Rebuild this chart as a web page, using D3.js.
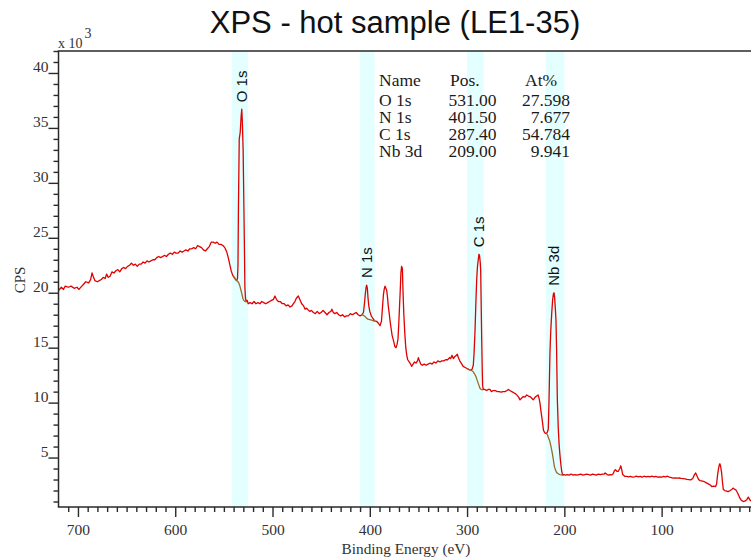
<!DOCTYPE html>
<html>
<head>
<meta charset="utf-8">
<script src="https://cdn.jsdelivr.net/npm/d3@7/dist/d3.min.js"></script>
<style>
  html, body { margin: 0; padding: 0; background: #fff; }
  svg { display: block; }
</style>
</head>
<body>
<svg id="chart" width="751" height="560"></svg>
<script>
// XPS survey spectrum, counts in thousands of CPS vs binding energy (eV)
const spectrum = [
  [720, 20.2], [717, 20.5], [715, 20.3], [713, 20.6], [710, 20.5], [707, 20.6], [704, 20.4], [701, 20.5],
  [699, 20.3], [696, 20.6], [694, 20.8], [692, 21.0], [689, 20.9], [687, 21.2], [685.5, 21.8], [684, 21.4],
  [682.5, 21.1], [680, 21.0], [678, 21.1], [676, 21.2], [674, 21.4], [672, 21.3], [670.5, 21.7], [669, 21.4],
  [667, 21.5], [665, 21.9], [663, 21.8], [661, 22.0], [659, 22.1], [657, 21.9], [655, 22.2], [653, 22.3],
  [651, 22.2], [649, 22.4], [647, 22.5], [645, 22.7], [643, 22.5], [641, 22.6], [639, 22.4], [637, 22.6],
  [635, 22.6], [633, 22.8], [631, 22.7], [629, 22.9], [627, 22.8], [625, 22.9], [623, 23.0], [621, 23.0],
  [619, 23.2], [617, 23.3], [615, 23.2], [613, 23.3], [611, 23.4], [609, 23.3], [607, 23.5], [605, 23.6],
  [603, 23.5], [601, 23.7], [599, 23.6], [597, 23.6], [595, 23.8], [593, 23.7], [591, 23.8], [589, 23.9],
  [587, 23.8], [585, 24.0], [583, 24.0], [581, 24.1], [579, 24.0], [577, 24.3], [575, 24.2], [573, 24.1],
  [571, 23.9], [569, 23.8], [567, 24.0], [565, 24.2], [563, 24.6], [561, 24.6], [559, 24.5], [557, 24.6],
  [555, 24.4], [553, 24.4], [551, 24.3], [549, 24.1], [547, 23.7], [545.5, 23.2], [544, 22.6], [542.5, 22.0],
  [541, 21.6], [539.5, 21.4], [538, 21.2], [537, 21.1], [536, 21.3],
  [535.5, 22.5], [535, 28.0], [534.2, 34.0], [533.2, 34.6], [532.3, 36.0], [531.6, 36.7], [531, 35.5],
  [530.2, 33.0], [529.6, 29.0], [529, 25.0], [528.4, 20.5], [527.8, 19.5], [527, 19.2], [526, 19.3],
  [525, 19.0], [523, 19.1], [521, 19.0], [519, 19.2], [517, 19.0], [515, 19.1], [513, 19.0], [511, 19.2],
  [509, 19.1], [507, 19.0], [505, 19.1], [503, 19.2], [501, 19.3], [499, 19.4], [497.5, 19.7], [496, 19.4],
  [494, 19.2], [492, 19.2], [490, 19.0], [488, 19.0], [486, 18.8], [484, 18.9], [482, 18.7], [480, 18.8],
  [478.5, 19.0], [477, 19.2], [475.5, 19.5], [473.5, 19.7], [472, 19.4], [470, 19.0], [468, 18.8],
  [466.5, 18.5], [465, 18.6], [463, 18.4], [461.5, 18.3], [460, 18.4], [458, 18.2], [456, 18.1], [454, 18.3],
  [452, 18.1], [450, 18.2], [448, 18.4], [446, 18.2], [444, 18.0], [442, 18.2], [440, 18.3], [439, 18.5],
  [437.5, 18.2], [436, 18.1], [434, 18.2], [432, 18.0], [430, 17.9], [428, 18.0], [426, 17.8], [424, 17.9],
  [422, 17.9], [420, 18.1], [418, 18.0], [416, 18.1], [414, 18.2], [412, 18.0], [410, 17.9], [408, 18.0],
  [406.5, 18.2],
  [405.5, 19.0], [404.7, 19.8], [403.8, 20.5], [403.2, 20.7], [402.5, 20.4], [401.8, 19.5], [401, 18.8],
  [400, 18.3], [398.5, 17.9], [397, 17.7], [395, 17.45], [393, 17.4], [391, 17.2], [389.5, 17.0],
  [388, 17.4], [387, 18.6], [386, 19.8], [385.2, 20.3], [384.4, 20.6], [383.5, 20.4], [382.6, 20.2],
  [381.8, 19.6], [381, 18.8], [380, 18.1], [379, 17.3], [378, 16.7], [377, 16.1], [375.5, 15.6],
  [374.2, 15.1], [373, 15.0], [372, 15.3], [371, 15.8], [370.3, 17.0], [369.5, 18.6], [368.8, 20.0],
  [368, 21.8], [367.3, 22.4], [366.5, 22.2], [365.8, 20.0], [365, 18.0], [364, 16.3], [363, 15.0],
  [362, 14.3], [361, 13.9], [359.5, 13.7], [358, 13.5], [357, 13.3], [355.5, 13.5], [354, 13.7],
  [352.5, 13.6], [351, 13.8], [350, 14.1], [349, 13.8], [347.5, 13.5], [346, 13.4], [344, 13.5],
  [342, 13.4], [340, 13.5], [338, 13.6], [336, 13.5], [334, 13.7], [332, 13.6], [330, 13.8], [328, 13.7],
  [326, 13.8], [324, 13.8], [322, 13.9], [320, 13.9], [318, 14.1], [317, 14.0], [315.5, 14.3], [314, 14.0],
  [312.5, 14.2], [311, 14.3], [310, 14.4], [309, 14.1], [307.5, 13.8], [306, 13.6], [304, 13.3],
  [302, 13.2], [300, 13.1], [298, 13.0], [296.5, 12.95], [295, 13.0], [293.6, 13.4],
  [292.8, 14.5], [291.8, 16.6], [290.8, 19.5], [290.1, 21.2], [289.3, 22.4], [288.5, 23.0], [287.8, 23.5],
  [287.2, 23.4], [286.5, 22.8], [286, 22.0], [285.5, 19.0], [285, 16.0], [284.4, 13.0], [284, 11.5],
  [283.2, 11.2], [282, 11.2], [280, 11.1], [278, 11.2], [276.5, 11.2], [275, 11.0], [273, 11.1],
  [271, 11.1], [269, 11.0], [267, 11.0], [265, 10.95], [263, 11.0], [261, 11.0], [259, 11.1],
  [257.6, 11.2], [256, 11.1], [254, 11.0], [252, 10.9], [250, 10.8], [249, 10.7], [247, 10.5],
  [245.6, 10.25], [244, 10.4], [242.2, 10.55], [240.5, 10.5], [238.7, 10.7], [237, 10.6], [235.3, 10.55],
  [233.5, 10.4], [232, 10.25], [230, 10.5], [228.5, 10.6], [227, 10.7], [226, 10.4], [225, 9.9],
  [224, 9.2], [223.2, 8.7], [222.3, 8.1], [221.5, 7.5], [220.5, 7.3], [219.5, 7.2], [218.5, 7.2],
  [217.5, 7.3],
  [216.5, 7.6], [215.8, 10.0], [214.8, 14.5], [214, 16.5], [213, 18.1], [212, 19.4], [211.2, 19.9],
  [210.6, 20.0], [210, 19.6], [209.3, 18.6], [208.6, 17.5], [208, 15.0], [207.2, 10.3], [206.3, 7.8],
  [205.4, 6.2], [204.5, 5.2], [203.5, 4.3], [202.6, 3.7], [201.7, 3.4], [200.5, 3.45], [199, 3.4],
  [197, 3.45], [195, 3.4], [193, 3.5], [191, 3.4], [189, 3.45], [187, 3.4], [185, 3.45], [183, 3.5],
  [181, 3.4], [179, 3.45], [177, 3.5], [175, 3.45], [173, 3.4], [171, 3.5], [169, 3.45], [167, 3.4],
  [165, 3.5], [163, 3.45], [161, 3.5], [159, 3.5], [158, 3.6], [156, 3.45], [154.5, 3.4], [153, 3.45],
  [151.3, 3.43], [150, 3.5], [148.5, 3.8], [147.5, 3.9], [146, 3.75], [144.5, 3.75], [143, 4.0],
  [142, 4.25], [141, 3.9], [140, 3.45], [138, 3.3], [136, 3.28], [134, 3.25], [132, 3.28], [130, 3.22],
  [128, 3.25], [126, 3.3], [124, 3.25], [122, 3.28], [120, 3.22], [118, 3.3], [116, 3.25], [114, 3.28],
  [112, 3.25], [110, 3.3], [108, 3.25], [106, 3.28], [104, 3.22], [102, 3.25], [100, 3.22], [98, 3.28],
  [96, 3.25], [94, 3.3], [92, 3.22], [90, 3.18], [88, 3.13], [86, 3.15], [84, 3.12], [82, 3.14],
  [80, 3.1], [78, 3.08], [76, 3.05], [74, 3.02], [72, 3.0], [70, 2.97], [68, 3.1], [66.5, 3.4],
  [65, 3.6], [63.5, 3.3], [62, 3.0], [60.5, 2.9], [58, 2.85], [56, 2.8], [54, 2.7], [52, 2.6],
  [50, 2.5], [48.5, 2.36], [46.5, 2.4], [44.5, 2.36], [43.5, 2.6], [42.5, 3.4], [41.5, 4.0],
  [40.5, 4.4], [40, 4.43], [39.2, 4.1], [38.3, 3.6], [37.5, 2.8], [36.6, 2.1], [35, 2.0], [33, 1.95],
  [31.5, 1.9], [29.5, 2.0], [28, 2.1], [26.3, 2.22], [25, 2.1], [23.6, 2.05], [22, 1.8], [20.5, 1.5],
  [19.5, 1.3], [18, 1.1], [16, 1.0], [14, 1.05], [12.6, 1.15], [10.9, 1.4], [8.9, 1.1], [7, 1.0], [5, 0.9]
];

// Fitted regions: name, energy window, and Shirley backgrounds
const regionNames = ["O 1s", "N 1s", "C 1s", "Nb 3d"];
const regionStart = [542, 410, 300, 219];
const regionEnd = [525, 395, 283, 200];
const bgO1s = [[540, 21.5], [538.5, 21.3], [537, 21.15], [535.5, 21.0], [534.5, 20.85], [533.5, 20.6],
  [532.5, 20.25], [531.5, 19.9], [530.5, 19.5], [529.5, 19.3], [528, 19.2], [526.5, 19.2]];
const bgN1s = [[408.5, 18.0], [406.5, 17.95], [405, 17.85], [403.5, 17.7], [402, 17.6], [400, 17.55],
  [398, 17.5], [396.5, 17.45], [395, 17.45]];
const bgC1s = [[300, 13.1], [297, 12.97], [295, 12.9], [293.6, 12.8], [292.2, 12.6], [290.8, 12.35],
  [289.5, 12.0], [288.5, 11.75], [287.5, 11.5], [286.7, 11.3], [285.5, 11.2], [283.3, 11.15]];
const bgNb3d = [[218.5, 7.2], [217.5, 7.1], [216.5, 6.85], [214.8, 6.45], [213.5, 5.9], [212.4, 5.4],
  [211.3, 4.8], [210.3, 4.2], [209, 3.85], [207.9, 3.64], [206, 3.5], [204.5, 3.45], [201.7, 3.4]];

// Quantification table
const tableHeader = ["Name", "Pos.", "At%"];
const tablePos = ["531.00", "401.50", "287.40", "209.00"];
const tableAt = ["27.598", "7.677", "54.784", "9.941"];

// Axis ticks
const xMajorTicks = [700, 600, 500, 400, 300, 200, 100];
const yMajorTicks = [5, 10, 15, 20, 25, 30, 35, 40];

const svg = d3.select("#chart");
const plotLeft = 58.5, plotTop = 51, plotBottom = 507, plotRight = 758.9;

const x = d3.scaleLinear().domain([720, 0]).range([plotLeft, plotRight]);
const y = d3.scaleLinear().domain([0.5, 42]).range([plotBottom, plotTop]);

svg.append("defs").append("clipPath").attr("id", "plotClip")
  .append("rect").attr("x", plotLeft).attr("y", plotTop)
  .attr("width", plotRight - plotLeft).attr("height", plotBottom - plotTop);

const plot = svg.append("g").attr("clip-path", "url(#plotClip)");

// Region bands
plot.selectAll("rect.band").data(regionNames).join("rect")
  .attr("class", "band")
  .attr("x", (d, i) => x(regionStart[i]))
  .attr("width", (d, i) => x(regionEnd[i]) - x(regionStart[i]))
  .attr("y", plotTop)
  .attr("height", plotBottom - plotTop)
  .attr("fill", "#e4ffff");

const line = d3.line().x(d => x(d[0])).y(d => y(d[1]));

plot.append("path").datum(spectrum)
  .attr("d", line)
  .attr("fill", "none")
  .attr("stroke", "#e00000")
  .attr("stroke-width", 1.3)
  .attr("stroke-linejoin", "round");

plot.selectAll("path.bg").data([bgO1s, bgN1s, bgC1s, bgNb3d]).join("path")
  .attr("class", "bg")
  .attr("d", line)
  .attr("fill", "none")
  .attr("stroke", "#9a6a28")
  .attr("stroke-width", 1.3);

// Region labels above each peak maximum
regionNames.forEach((name, i) => {
  const inRegion = spectrum.filter(p => p[0] <= regionStart[i] && p[0] >= regionEnd[i]);
  const peak = inRegion.reduce((a, b) => (b[1] > a[1] ? b : a));
  const px = x(peak[0]), py = y(peak[1]) - 7;
  svg.append("text")
    .attr("transform", `translate(${px},${py}) rotate(-90)`)
    .attr("dy", "0.36em")
    .attr("font-family", "Liberation Sans, Arial, sans-serif")
    .attr("font-size", 15)
    .attr("fill", "#111")
    .text(name);
});

// Axes
const axisColor = "#2a2a2a";
const xMinor = d3.range(710, 0, -10).filter(v => !xMajorTicks.includes(v));
const yMinor = d3.range(1, 42.5, 1).filter(v => !yMajorTicks.includes(v));

const xAxisMinor = svg.append("g").attr("transform", `translate(0,${plotBottom})`)
  .call(d3.axisBottom(x).tickValues(xMinor).tickSize(5).tickFormat(""));
const xAxisMajor = svg.append("g").attr("transform", `translate(0,${plotBottom})`)
  .call(d3.axisBottom(x).tickValues(xMajorTicks).tickSize(10).tickFormat(d3.format("d")));
xAxisMajor.selectAll("text").attr("y", 28).attr("dy", 0);

const yAxisMinor = svg.append("g").attr("transform", `translate(${plotLeft},0)`)
  .call(d3.axisLeft(y).tickValues(yMinor).tickSize(5).tickFormat(""));
const yAxisMajor = svg.append("g").attr("transform", `translate(${plotLeft},0)`)
  .call(d3.axisLeft(y).tickValues(yMajorTicks).tickSize(10).tickFormat(d3.format("d")));
yAxisMajor.selectAll("text").attr("x", -10).attr("y", -1).attr("dy", 0).attr("text-anchor", "end");

[xAxisMinor, xAxisMajor, yAxisMinor, yAxisMajor].forEach(g => {
  g.select(".domain").remove();
  g.selectAll("line").attr("stroke", axisColor).attr("stroke-width", 1.4);
  g.selectAll("text")
    .attr("font-family", "Liberation Serif, Times New Roman, serif")
    .attr("font-size", 15.5)
    .attr("fill", "#333");
});

// Frame
svg.append("path")
  .attr("d", `M${plotRight},${plotTop}H${plotLeft}V${plotBottom}H${plotRight}`)
  .attr("fill", "none")
  .attr("stroke", axisColor)
  .attr("stroke-width", 1.5);

// Titles
svg.append("text")
  .attr("x", 395).attr("y", 33)
  .attr("text-anchor", "middle")
  .attr("font-family", "Liberation Sans, Arial, sans-serif")
  .attr("font-size", 31)
  .attr("fill", "#111")
  .text("XPS - hot sample (LE1-35)");

svg.append("text")
  .attr("x", 58).attr("y", 47.5)
  .attr("font-family", "Liberation Serif, Times New Roman, serif")
  .attr("font-size", 14)
  .attr("fill", "#333")
  .text("x 10");
svg.append("text")
  .attr("x", 84.5).attr("y", 38.3)
  .attr("font-family", "Liberation Serif, Times New Roman, serif")
  .attr("font-size", 14)
  .attr("fill", "#333")
  .text("3");

svg.append("text")
  .attr("transform", "translate(25,280) rotate(-90)")
  .attr("text-anchor", "middle")
  .attr("font-family", "Liberation Serif, Times New Roman, serif")
  .attr("font-size", 15)
  .attr("fill", "#333")
  .text("CPS");

svg.append("text")
  .attr("x", 406).attr("y", 553.5)
  .attr("text-anchor", "middle")
  .attr("font-family", "Liberation Serif, Times New Roman, serif")
  .attr("font-size", 15.3)
  .attr("fill", "#333")
  .text("Binding Energy (eV)");

// Quantification table
const table = svg.append("g")
  .attr("font-family", "Liberation Serif, Times New Roman, serif")
  .attr("font-size", 17.5)
  .attr("fill", "#1a1a1a");
const headerX = [379, 450, 525];
tableHeader.forEach((h, i) => {
  table.append("text").attr("x", headerX[i]).attr("y", 85.5).text(h);
});
regionNames.forEach((name, i) => {
  const ty = 105.5 + i * 17;
  table.append("text").attr("x", 379).attr("y", ty).text(name);
  table.append("text").attr("x", 496.5).attr("y", ty).attr("text-anchor", "end").text(tablePos[i]);
  table.append("text").attr("x", 570).attr("y", ty).attr("text-anchor", "end").text(tableAt[i]);
});
</script>
</body>
</html>
